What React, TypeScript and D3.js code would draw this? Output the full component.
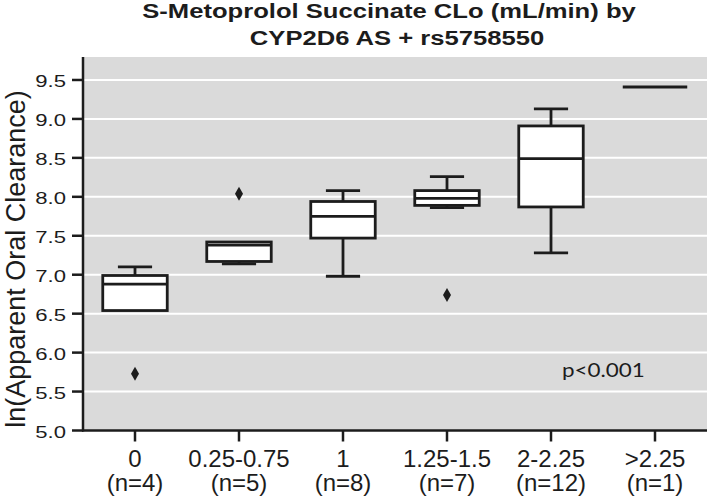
import React from "react";
import * as d3 from "d3";

const categories = ["0", "0.25-0.75", "1", "1.25-1.5", "2-2.25", ">2.25"];
const counts = ["(n=4)", "(n=5)", "(n=8)", "(n=7)", "(n=12)", "(n=1)"];
const whiskerLow = [6.54, 7.14, 6.98, 7.86, 7.28, 9.41];
const q1 = [6.54, 7.17, 7.47, 7.89, 7.87, 9.41];
const median = [6.88, 7.38, 7.75, 7.98, 8.49, 9.41];
const q3 = [6.99, 7.42, 7.94, 8.08, 8.91, 9.41];
const whiskerHigh = [7.1, 7.42, 8.08, 8.26, 9.13, 9.41];
const outliers: number[][] = [[5.73], [8.04], [], [6.74], [], []];
const yTicks = [5.0, 5.5, 6.0, 6.5, 7.0, 7.5, 8.0, 8.5, 9.0, 9.5];

const W = 709;
const H = 497;
const left = 83;
const right = 707;
const top = 57;
const bottom = 430.5;
const font = "'Liberation Sans', Arial, Helvetica, sans-serif";
const ink = "#1c1c1c";

export default function App() {
  const x = d3.scaleBand<string>().domain(categories).range([left, right]).paddingInner(0).paddingOuter(0);
  const y = d3.scaleLinear().domain([5, 9.795]).range([bottom, top]);
  const bw = x.bandwidth() * 0.62;
  const cw = bw * 0.53;
  const diamond = (cx: number, cy: number) =>
    `M${cx},${cy - 7} L${cx + 4},${cy} L${cx},${cy + 7} L${cx - 4},${cy} Z`;

  return (
    <svg width={W} height={H} style={{ position: "absolute", left: 0, top: 0, background: "#fff" }}>
      <text transform="translate(389,18) scale(1.22,1)" textAnchor="middle" fontFamily={font} fontWeight="bold" fontSize={21} fill={ink}>
        S-Metoprolol Succinate CLo (mL/min) by
      </text>
      <text transform="translate(397,45) scale(1.22,1)" textAnchor="middle" fontFamily={font} fontWeight="bold" fontSize={21} fill={ink}>
        CYP2D6 AS + rs5758550
      </text>
      <rect x={left} y={top} width={right - left} height={bottom - top} fill="#dadada" />
      {yTicks.slice(1).map((t) => (
        <line key={"g" + t} x1={left} x2={right} y1={y(t)} y2={y(t)} stroke="#fff" strokeWidth={2} />
      ))}
      {categories.map((c, i) => {
        const cx = (x(c) as number) + x.bandwidth() / 2;
        const single = q1[i] === q3[i] && whiskerLow[i] === whiskerHigh[i];
        if (single) {
          return (
            <line key={c} x1={cx - bw / 2} x2={cx + bw / 2} y1={y(median[i])} y2={y(median[i])} stroke={ink} strokeWidth={2.8} />
          );
        }
        return (
          <g key={c} stroke={ink} strokeWidth={2.8} fill="none">
            {whiskerHigh[i] > q3[i] && (
              <>
                <line x1={cx} x2={cx} y1={y(whiskerHigh[i])} y2={y(q3[i])} />
                <line x1={cx - cw / 2} x2={cx + cw / 2} y1={y(whiskerHigh[i])} y2={y(whiskerHigh[i])} />
              </>
            )}
            {whiskerLow[i] < q1[i] && (
              <>
                <line x1={cx} x2={cx} y1={y(q1[i])} y2={y(whiskerLow[i])} />
                <line x1={cx - cw / 2} x2={cx + cw / 2} y1={y(whiskerLow[i])} y2={y(whiskerLow[i])} />
              </>
            )}
            <rect x={cx - bw / 2} y={y(q3[i])} width={bw} height={y(q1[i]) - y(q3[i])} fill="#fff" />
            <line x1={cx - bw / 2} x2={cx + bw / 2} y1={y(median[i])} y2={y(median[i])} />
            {outliers[i].map((o, j) => (
              <path key={j} d={diamond(cx, y(o))} fill={ink} stroke="none" />
            ))}
          </g>
        );
      })}
      <text transform="translate(562,377) scale(1.15,1)" fontFamily="Lato, 'Open Sans', sans-serif" fontSize={19.5} fill={ink}>
        p&lt;0.001
      </text>
      <line x1={left} x2={left} y1={top} y2={bottom + 1} stroke={ink} strokeWidth={2.5} />
      <line x1={left - 1} x2={right} y1={bottom} y2={bottom} stroke={ink} strokeWidth={2.5} />
      {yTicks.map((t) => (
        <g key={"t" + t}>
          <line x1={left - 11} x2={left} y1={y(t)} y2={y(t)} stroke={ink} strokeWidth={2.5} />
          <text transform={`translate(66,${y(t) + 7.5}) scale(1.3,1)`} textAnchor="end" fontFamily={font} fontSize={17} fill={ink}>
            {t.toFixed(1)}
          </text>
        </g>
      ))}
      {categories.map((c, i) => {
        const cx = (x(c) as number) + x.bandwidth() / 2;
        return (
          <g key={"x" + c}>
            <line x1={cx} x2={cx} y1={bottom} y2={bottom + 11} stroke={ink} strokeWidth={2.5} />
            <text x={cx} y={466.5} textAnchor="middle" fontFamily={font} fontSize={24} fill={ink}>
              {c}
            </text>
            <text x={cx} y={491} textAnchor="middle" fontFamily={font} fontSize={24} fill={ink}>
              {counts[i]}
            </text>
          </g>
        );
      })}
      <text
        transform="translate(25,259) rotate(-90)"
        textAnchor="middle"
        fontFamily={font}
        fontSize={27}
        fill={ink}
      >
        ln(Apparent Oral Clearance)
      </text>
    </svg>
  );
}
